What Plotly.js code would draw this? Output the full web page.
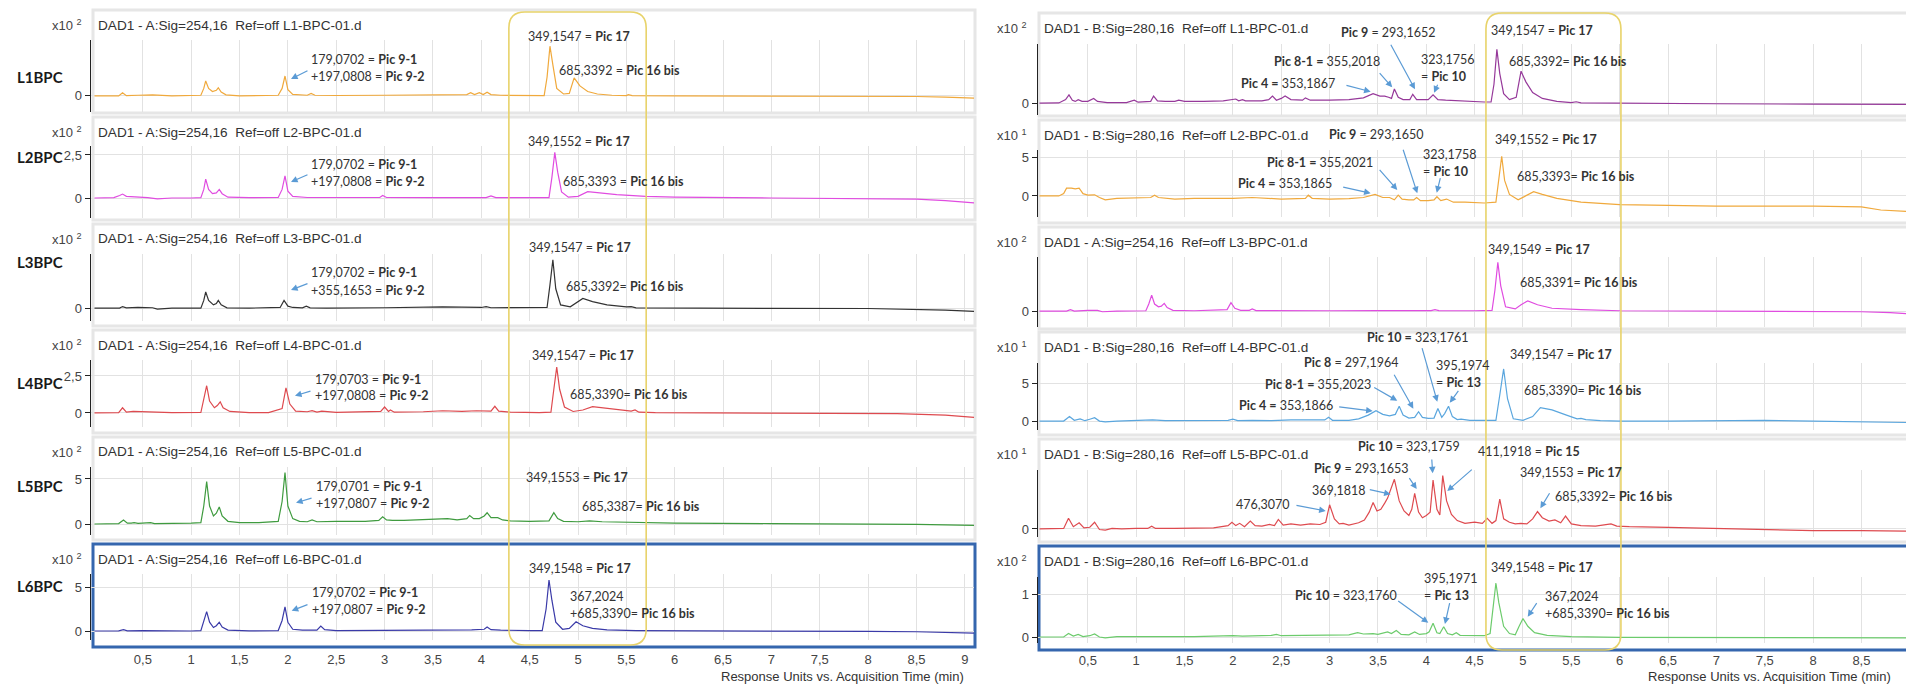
<!DOCTYPE html>
<html><head><meta charset="utf-8">
<script src="https://cdn.plot.ly/plotly-3.0.1.min.js"></script>
<style>html,body{margin:0;padding:0;background:#fff}#chart{width:1906px;height:689px}</style>
</head><body><div id="chart"></div>
<script>
// ---------- DATA: [time (min), response] pairs ----------
const L1 = [[0,0],[0.25,0],[0.29,0.25],[0.33,0.02],[0.45,0.05],[0.6,0.08],[0.8,0],[1.0,0.02],[1.1,0.05],[1.13,0.6],[1.15,1.2],[1.18,0.6],[1.22,0.35],[1.26,0.45],[1.28,0.65],[1.31,0.3],[1.36,0.08],[1.5,0],[1.7,0.02],[1.9,0.05],[1.94,0.6],[1.97,1.6],[2.0,0.5],[2.05,0.12],[2.2,0.05],[2.24,0.2],[2.28,0.05],[2.5,0.03],[3.0,0.05],[3.5,0.08],[3.85,0.1],[3.89,0.25],[3.93,0.1],[3.98,0.25],[4.02,0.1],[4.06,0.3],[4.1,0.1],[4.2,0.05],[4.5,0.02],[4.65,0.02],[4.68,1.5],[4.71,4.0],[4.74,2.5],[4.78,0.6],[4.85,0.15],[4.91,0.2],[4.96,1.45],[5.02,0.8],[5.1,0.35],[5.2,0.15],[5.35,0.05],[5.5,0.02],[5.52,0.1],[5.56,0.02],[6,0],[7,0],[8,-0.02],[8.5,-0.05],[8.8,-0.1],[9.1,-0.18]];
const L2 = [[0,0],[0.2,0.02],[0.26,0.15],[0.29,0.23],[0.33,0.1],[0.4,0.08],[0.55,0.02],[0.65,-0.05],[0.8,0],[1.0,0],[1.1,0.02],[1.13,0.5],[1.15,1.1],[1.18,0.5],[1.22,0.25],[1.26,0.3],[1.29,0.5],[1.32,0.25],[1.38,0.05],[1.6,0.02],[1.9,0.03],[1.94,0.5],[1.97,1.28],[2.0,0.4],[2.05,0.1],[2.2,0.03],[2.5,0.02],[2.95,0.03],[2.98,0.15],[3.02,0.03],[3.5,0.02],[4.05,0.02],[4.1,0.12],[4.15,0.02],[4.5,0.02],[4.7,0.02],[4.73,1.2],[4.76,2.65],[4.79,1.5],[4.83,0.35],[4.9,0.05],[5.0,0.1],[5.1,0.37],[5.2,0.3],[5.4,0.2],[5.7,0.1],[6.0,0.05],[7,0],[8,-0.02],[8.5,-0.06],[8.8,-0.15],[9.1,-0.28]];
const L3 = [[0,0],[0.26,0],[0.29,0.12],[0.33,0.02],[0.45,0.05],[0.6,0.03],[0.65,-0.08],[0.8,0],[1.1,0],[1.13,0.6],[1.15,1.25],[1.18,0.6],[1.23,0.25],[1.26,0.35],[1.28,0.6],[1.31,0.25],[1.37,0.02],[1.6,0],[1.92,0.05],[1.96,0.6],[2.0,0.15],[2.05,0.05],[2.15,0.02],[2.19,0.15],[2.23,0.02],[2.4,0],[3.0,0.03],[3.3,0.05],[3.5,0.05],[3.6,0.1],[4.0,0.05],[4.05,0.12],[4.1,0.03],[4.5,0.02],[4.68,0.05],[4.71,1.8],[4.74,3.75],[4.77,1.5],[4.82,0.25],[4.92,0.1],[4.97,0.35],[5.05,0.75],[5.15,0.5],[5.3,0.25],[5.5,0.1],[5.55,0.12],[5.6,0.02],[6.0,0],[7.0,-0.02],[8.0,-0.03],[8.5,-0.08],[8.8,-0.15],[9.1,-0.25]];
const L4 = [[0,0],[0.25,0.02],[0.29,0.35],[0.33,0.05],[0.4,0.1],[0.55,0.08],[0.65,0.03],[0.8,0.02],[1.1,0.03],[1.13,0.9],[1.16,1.84],[1.19,0.8],[1.24,0.35],[1.27,0.5],[1.3,0.75],[1.33,0.35],[1.4,0.1],[1.6,0.02],[1.8,0.02],[1.94,0.3],[1.98,1.7],[2.02,0.6],[2.08,0.12],[2.2,0.08],[2.25,0.15],[2.3,0.06],[2.35,0.12],[2.5,0.04],[2.9,0.05],[2.96,0.1],[3.0,0.4],[3.04,0.1],[3.06,0.2],[3.1,0.05],[3.4,0.08],[3.5,0.1],[3.6,0.15],[3.8,0.1],[3.95,0.15],[4.1,0.12],[4.14,0.45],[4.18,0.12],[4.22,0.1],[4.3,0.05],[4.6,0.02],[4.72,0.05],[4.75,1.6],[4.78,3.1],[4.81,1.6],[4.86,0.4],[4.95,0.1],[5.05,0.2],[5.15,0.43],[5.25,0.35],[5.4,0.25],[5.55,0.12],[5.59,0.2],[5.63,0.05],[5.8,0.02],[6.5,0],[7.5,-0.02],[8.3,-0.05],[8.8,-0.15],[9.1,-0.3]];
const L5 = [[0,0],[0.25,0.05],[0.3,0.45],[0.34,0.1],[0.38,0.1],[0.41,0.15],[0.45,0.08],[0.55,0.1],[0.58,0.15],[0.62,0.05],[0.8,0.05],[1.0,0.1],[1.1,0.15],[1.13,2.0],[1.16,4.7],[1.19,2.0],[1.23,0.9],[1.26,1.2],[1.29,1.9],[1.32,0.9],[1.38,0.3],[1.5,0.15],[1.7,0.15],[1.8,0.2],[1.9,0.3],[1.94,2.5],[1.97,5.7],[2.0,2.0],[2.05,0.6],[2.12,0.3],[2.2,0.25],[2.25,0.45],[2.3,0.25],[2.5,0.3],[2.8,0.3],[2.94,0.4],[2.98,0.8],[3.02,0.45],[3.08,0.4],[3.2,0.4],[3.4,0.5],[3.5,0.55],[3.65,0.6],[3.75,0.45],[3.85,0.6],[3.88,0.95],[3.92,0.6],[3.98,0.6],[4.03,0.9],[4.06,1.25],[4.1,0.7],[4.17,0.7],[4.22,0.45],[4.3,0.35],[4.5,0.3],[4.7,0.35],[4.72,0.7],[4.75,1.25],[4.79,0.6],[4.85,0.3],[5.0,0.25],[5.12,0.35],[5.25,0.25],[5.5,0.2],[5.7,0.12],[6.0,0.1],[7.0,0.05],[8.0,0],[8.5,-0.05],[9.1,-0.15]];
const L6 = [[0,0],[0.25,0.02],[0.3,0.15],[0.34,0.02],[0.5,0.05],[0.7,0.02],[1.0,0],[1.1,0.05],[1.13,1.0],[1.16,2.2],[1.19,1.0],[1.23,0.4],[1.26,0.6],[1.29,1.0],[1.32,0.45],[1.38,0.1],[1.6,0.02],[1.9,0.05],[1.94,1.2],[1.97,2.75],[2.0,1.0],[2.05,0.2],[2.15,0.1],[2.3,0.1],[2.34,0.55],[2.38,0.15],[2.5,0.05],[3.0,0.05],[3.5,0.1],[3.9,0.12],[4.03,0.2],[4.06,0.45],[4.1,0.15],[4.2,0.1],[4.5,0.05],[4.63,0.05],[4.67,2.5],[4.70,5.8],[4.73,3.5],[4.77,1.0],[4.84,0.2],[4.91,0.3],[4.98,1.05],[5.05,0.6],[5.15,0.3],[5.3,0.12],[5.6,0.05],[6.0,0.02],[7.0,-0.02],[8.0,-0.05],[8.5,-0.08],[8.8,-0.15],[9.1,-0.25]];
const R1 = [[0,0],[0.2,0.02],[0.27,0.3],[0.305,0.7],[0.34,0.25],[0.37,0.15],[0.4,0.3],[0.44,0.15],[0.5,0.15],[0.56,0.4],[0.6,0.15],[0.7,0.05],[0.9,0.05],[0.98,0.25],[1.02,0.08],[1.1,0.1],[1.15,0.15],[1.18,0.6],[1.22,0.2],[1.3,0.15],[1.4,0.15],[1.44,0.25],[1.5,0.15],[1.7,0.15],[1.9,0.2],[2.03,0.35],[2.06,0.2],[2.1,0.3],[2.13,0.2],[2.3,0.2],[2.37,0.3],[2.41,0.6],[2.45,0.25],[2.5,0.4],[2.54,0.6],[2.6,0.3],[2.72,0.25],[2.75,0.45],[2.8,0.25],[3.0,0.25],[3.2,0.3],[3.35,0.45],[3.45,0.8],[3.52,0.6],[3.57,0.6],[3.61,0.5],[3.64,0.4],[3.67,1.2],[3.71,0.5],[3.76,0.3],[3.83,0.3],[3.86,0.75],[3.9,0.3],[3.96,0.3],[4.02,0.3],[4.07,0.7],[4.12,0.3],[4.2,0.25],[4.3,0.2],[4.4,0.15],[4.6,0.1],[4.67,0.1],[4.70,1.6],[4.73,4.55],[4.76,2.5],[4.8,0.8],[4.86,0.3],[4.93,0.5],[4.98,2.7],[5.03,1.8],[5.1,0.9],[5.2,0.4],[5.35,0.15],[5.5,0.05],[5.55,0.12],[5.6,0.03],[6.0,0],[7.0,-0.05],[8.0,-0.08],[9.0,-0.1]];
const R2 = [[0,0],[0.2,0],[0.25,0.3],[0.28,1.0],[0.33,1.0],[0.37,0.9],[0.41,1.0],[0.45,0.3],[0.5,0.1],[0.57,0.15],[0.62,-0.2],[0.68,-0.5],[0.8,-0.3],[1.0,-0.2],[1.15,-0.2],[1.19,0.1],[1.23,-0.2],[1.4,-0.4],[1.6,-0.3],[1.8,-0.3],[2.0,-0.3],[2.2,-0.2],[2.5,-0.4],[2.75,-0.3],[2.78,0.1],[2.82,-0.3],[3.0,-0.4],[3.2,-0.35],[3.35,-0.2],[3.47,0.2],[3.55,-0.2],[3.62,-0.2],[3.67,-0.5],[3.71,0.1],[3.75,-0.4],[3.82,-0.5],[3.87,-0.5],[3.9,-0.2],[3.94,-0.6],[4.02,-0.6],[4.08,-0.5],[4.11,-0.1],[4.15,-0.6],[4.21,-0.4],[4.28,-0.8],[4.4,-0.8],[4.6,-0.9],[4.72,-0.8],[4.75,2.5],[4.78,5.1],[4.81,2.0],[4.86,0.2],[4.95,-0.5],[5.05,0.2],[5.11,0.55],[5.2,0.2],[5.35,-0.3],[5.6,-0.8],[6.0,-1.1],[6.5,-1.2],[7.0,-1.3],[8.0,-1.3],[8.5,-1.4],[8.7,-1.8],[9.0,-2.0]];
const R3 = [[0,0],[0.28,0],[0.32,0.1],[0.36,0],[0.5,0.05],[0.6,0.05],[0.65,-0.05],[0.8,0],[1.1,0.02],[1.13,0.5],[1.16,1.14],[1.19,0.5],[1.23,0.3],[1.26,0.35],[1.29,0.55],[1.32,0.25],[1.38,0.05],[1.6,0.02],[1.94,0.1],[1.98,0.6],[2.02,0.2],[2.08,0.05],[2.17,0.05],[2.2,0.15],[2.24,0.03],[2.4,0.02],[3.0,0.02],[3.5,0.03],[4.05,0.03],[4.09,0.1],[4.13,0.03],[4.5,0.02],[4.68,0.05],[4.71,1.5],[4.74,3.48],[4.77,1.8],[4.82,0.3],[4.92,0.15],[4.98,0.45],[5.05,0.73],[5.15,0.45],[5.3,0.2],[5.5,0.1],[5.55,0.08],[5.6,0.1],[6.0,0.02],[7.0,0],[8.0,-0.02],[8.5,-0.05],[8.8,-0.12],[9.0,-0.2]];
const R4 = [[0,0],[0.25,0],[0.31,0.6],[0.36,0.1],[0.42,0.3],[0.47,0.05],[0.52,0.25],[0.57,0.45],[0.62,0],[0.68,-0.1],[0.8,0],[1.0,0.05],[1.17,0.15],[1.3,0.05],[1.6,0.05],[1.95,0.1],[2.0,0.25],[2.05,0.05],[2.2,0.1],[2.4,0.05],[2.6,0.15],[2.8,0.1],[2.95,0.15],[2.99,0.5],[3.03,0.1],[3.2,0.1],[3.3,0.3],[3.4,0.8],[3.48,1.4],[3.55,0.9],[3.62,0.7],[3.68,0.9],[3.72,2.0],[3.76,0.8],[3.82,0.4],[3.88,0.5],[3.92,1.25],[3.96,0.5],[4.02,0.35],[4.08,0.4],[4.12,1.7],[4.16,0.5],[4.19,1.0],[4.23,2.0],[4.27,0.6],[4.32,0.2],[4.36,0.25],[4.45,0.1],[4.6,0.05],[4.72,0.1],[4.76,3.5],[4.80,7.0],[4.84,3.0],[4.9,0.3],[5.0,0.1],[5.1,0.6],[5.18,1.8],[5.3,1.5],[5.45,0.8],[5.56,0.3],[5.6,0.35],[5.65,0.2],[5.8,0.05],[6.0,0],[6.5,0],[7.0,0.05],[7.5,0.1],[8.0,0],[8.5,-0.1],[9.0,-0.2]];
const R5 = [[0,0],[0.25,0.1],[0.3,1.9],[0.35,0.4],[0.41,1.1],[0.46,0.2],[0.52,0.3],[0.57,1.2],[0.62,-0.1],[0.68,-0.2],[0.75,0.1],[0.85,0],[1.0,0.1],[1.12,0.1],[1.16,0.5],[1.2,0.1],[1.4,0.1],[1.6,0.1],[1.8,0.2],[1.95,0.6],[1.99,1.2],[2.03,0.6],[2.07,1.0],[2.12,0.4],[2.18,1.4],[2.23,0.6],[2.3,0.5],[2.38,0.8],[2.43,0.6],[2.47,1.7],[2.52,0.7],[2.6,0.9],[2.7,0.7],[2.8,0.9],[2.9,0.8],[2.96,1.2],[3.0,4.3],[3.05,1.8],[3.1,0.9],[3.14,1.0],[3.2,0.7],[3.3,1.1],[3.36,1.6],[3.41,3.0],[3.45,4.7],[3.49,3.2],[3.53,3.5],[3.57,4.6],[3.6,5.5],[3.67,8.85],[3.72,5.0],[3.77,3.2],[3.82,2.4],[3.85,3.5],[3.88,6.35],[3.92,3.0],[3.96,2.0],[4.0,2.4],[4.04,3.0],[4.07,8.7],[4.11,3.5],[4.14,2.5],[4.17,9.5],[4.21,5.0],[4.26,2.6],[4.32,1.5],[4.4,1.0],[4.5,1.2],[4.58,1.0],[4.63,1.9],[4.68,1.0],[4.72,1.5],[4.76,5.3],[4.8,1.8],[4.86,1.2],[4.92,0.9],[4.98,1.0],[5.04,0.9],[5.1,1.8],[5.15,3.1],[5.2,2.0],[5.27,1.4],[5.33,1.6],[5.39,1.1],[5.44,2.3],[5.5,0.9],[5.6,0.6],[5.75,0.5],[5.85,0.8],[5.91,0.9],[5.97,0.5],[6.1,0.4],[6.5,0.3],[7.0,0.1],[7.5,-0.1],[8.0,-0.3],[8.5,-0.3],[9.0,-0.4]];
const R6 = [[0,0],[0.25,0],[0.3,0.08],[0.35,0.02],[0.4,0.06],[0.45,0.01],[0.52,0.03],[0.57,0.07],[0.62,0],[0.68,-0.02],[0.8,0.01],[1.2,0.01],[1.6,0.01],[2.0,0.03],[2.1,0.02],[2.4,0.04],[2.45,0.06],[2.5,0.03],[2.8,0.04],[3.2,0.05],[3.29,0.1],[3.35,0.07],[3.45,0.08],[3.5,0.06],[3.6,0.12],[3.64,0.08],[3.69,0.15],[3.74,0.06],[3.82,0.05],[3.88,0.12],[3.93,0.06],[4.0,0.08],[4.03,0.12],[4.07,0.32],[4.11,0.1],[4.14,0.08],[4.18,0.24],[4.22,0.08],[4.27,0.05],[4.31,0.1],[4.35,0.04],[4.45,0.04],[4.6,0.03],[4.66,0.08],[4.69,0.7],[4.72,1.26],[4.75,0.8],[4.8,0.25],[4.86,0.08],[4.92,0.05],[4.96,0.25],[5.0,0.43],[5.05,0.25],[5.12,0.1],[5.25,0.04],[5.5,0.01],[6.0,-0.01],[7.0,-0.01],[8.0,-0.01],[9.0,-0.02]];

const SERIES = [L1, L2, L3, L4, L5, L6, R1, R2, R3, R4, R5, R6];
const ROW_LABELS = ['L1BPC', 'L2BPC', 'L3BPC', 'L4BPC', 'L5BPC', 'L6BPC'];
const HEADERS = [
  'DAD1 - A:Sig=254,16\u00a0 Ref=off L1-BPC-01.d', 'DAD1 - A:Sig=254,16\u00a0 Ref=off L2-BPC-01.d',
  'DAD1 - A:Sig=254,16\u00a0 Ref=off L3-BPC-01.d', 'DAD1 - A:Sig=254,16\u00a0 Ref=off L4-BPC-01.d',
  'DAD1 - A:Sig=254,16\u00a0 Ref=off L5-BPC-01.d', 'DAD1 - A:Sig=254,16\u00a0 Ref=off L6-BPC-01.d',
  'DAD1 - B:Sig=280,16\u00a0 Ref=off L1-BPC-01.d', 'DAD1 - B:Sig=280,16\u00a0 Ref=off L2-BPC-01.d',
  'DAD1 - A:Sig=254,16\u00a0 Ref=off L3-BPC-01.d', 'DAD1 - B:Sig=280,16\u00a0 Ref=off L4-BPC-01.d',
  'DAD1 - B:Sig=280,16\u00a0 Ref=off L5-BPC-01.d', 'DAD1 - B:Sig=280,16\u00a0 Ref=off L6-BPC-01.d'
];
const EXPONENTS = [2, 2, 2, 2, 2, 2, 2, 1, 2, 1, 1, 2];
const Y_TICKS = [[0], [0, 2.5], [0], [0, 2.5], [0, 5], [0, 5], [0], [0, 5], [0], [0, 5], [0], [0, 1]];
const X_TICKS = [0.5, 1, 1.5, 2, 2.5, 3, 3.5, 4, 4.5, 5, 5.5, 6, 6.5, 7, 7.5, 8, 8.5, 9];
const X_TITLE = 'Response Units vs. Acquisition Time (min)';

// peak labels: [panel, time, value, text]
const PEAK_LABELS = [
  [0, 2.229, 2.89, '179,0702 = <b>Pic 9-1</b>'], [0, 2.229, 1.52, '+197,0808 = <b>Pic 9-2</b>'],
  [0, 4.473, 4.82, '349,1547 = <b>Pic 17</b>'], [0, 4.793, 2.08, '685,3392 = <b>Pic 16 bis</b>'],
  [1, 2.229, 1.917, '179,0702 = <b>Pic 9-1</b>'], [1, 2.229, 0.93, '+197,0808 = <b>Pic 9-2</b>'],
  [1, 4.473, 3.31, '349,1552 = <b>Pic 17</b>'], [1, 4.835, 0.987, '685,3393 = <b>Pic 16 bis</b>'],
  [2, 2.229, 2.748, '179,0702 = <b>Pic 9-1</b>'], [2, 2.229, 1.35, '+355,1653 = <b>Pic 9-2</b>'],
  [2, 4.478, 4.666, '349,1547 = <b>Pic 17</b>'], [2, 4.866, 1.661, '685,3392= <b>Pic 16 bis</b>'],
  [3, 2.270, 2.295, '179,0703 = <b>Pic 9-1</b>'], [3, 2.270, 1.146, '+197,0808 = <b>Pic 9-2</b>'],
  [3, 4.518, 3.918, '349,1547 = <b>Pic 17</b>'], [3, 4.907, 1.281, '685,3390= <b>Pic 16 bis</b>'],
  [4, 2.280, 4.22, '179,0701 = <b>Pic 9-1</b>'], [4, 2.280, 2.30, '+197,0807 = <b>Pic 9-2</b>'],
  [4, 4.452, 5.109, '349,1553 = <b>Pic 17</b>'], [4, 5.031, 1.922, '685,3387= <b>Pic 16 bis</b>'],
  [5, 2.236, 4.355, '179,0702 = <b>Pic 9-1</b>'], [5, 2.236, 2.469, '+197,0807 = <b>Pic 9-2</b>'],
  [5, 4.478, 7.05, '349,1548 = <b>Pic 17</b>'], [5, 4.903, 3.98, '367,2024'], [5, 4.903, 2.014, '+685,3390= <b>Pic 16 bis</b>'],
  [6, 3.108, 5.99, '<b>Pic 9</b> = 293,1652'], [6, 2.418, 3.504, '<b>Pic 8-1 =</b> 355,2018'],
  [6, 3.935, 3.707, '323,1756'], [6, 3.935, 2.295, '= <b>Pic 10</b>'], [6, 2.073, 1.678, '<b>Pic 4 =</b> 353,1867'],
  [6, 4.656, 6.124, '349,1547 = <b>Pic 17</b>'], [6, 4.850, 3.504, '685,3392= <b>Pic 16 bis</b>'],
  [7, 2.987, 7.826, '<b>Pic 9</b> = 293,1650'], [7, 2.342, 4.321, '<b>Pic 8-1 =</b> 355,2021'],
  [7, 3.952, 5.348, '323,1758'], [7, 3.952, 3.114, '= <b>Pic 10</b>'], [7, 2.039, 1.625, '<b>Pic 4 =</b> 353,1865'],
  [7, 4.700, 7.274, '349,1552 = <b>Pic 17</b>'], [7, 4.928, 2.562, '685,3393= <b>Pic 16 bis</b>'],
  [8, 4.632, 4.431, '349,1549 = <b>Pic 17</b>'], [8, 4.962, 2.053, '685,3391= <b>Pic 16 bis</b>'],
  [9, 3.373, 11.25, '<b>Pic 10 =</b> 323,1761'], [9, 2.728, 7.84, '<b>Pic 8</b> = 297,1964'],
  [9, 4.087, 7.437, '395,1974'], [9, 4.087, 5.152, '= <b>Pic 13</b>'],
  [9, 2.322, 4.977, '<b>Pic 8-1 =</b> 355,2023'], [9, 2.056, 2.155, '<b>Pic 4 =</b> 353,1866'],
  [9, 4.857, 8.875, '349,1547 = <b>Pic 17</b>'], [9, 4.996, 4.077, '685,3390= <b>Pic 16 bis</b>'],
  [10, 3.280, 14.77, '<b>Pic 10</b> = 323,1759'], [10, 2.825, 10.80, '<b>Pic 9</b> = 293,1653'],
  [10, 4.520, 13.76, '411,1918 = <b>Pic 15</b>'], [10, 2.805, 6.814, '369,1818'], [10, 2.022, 4.392, '476,3070'],
  [10, 4.962, 10.02, '349,1553 = <b>Pic 17</b>'], [10, 5.319, 5.87, '685,3392= <b>Pic 16 bis</b>'],
  [11, 2.635, 0.980, '<b>Pic 10</b> = 323,1760'], [11, 3.963, 1.370, '395,1971'], [11, 3.963, 0.957, '= <b>Pic 13</b>'],
  [11, 4.659, 1.626, '349,1548 = <b>Pic 17</b>'], [11, 5.221, 0.940, '367,2024'], [11, 5.221, 0.537, '+685,3390= <b>Pic 16 bis</b>']
];
// arrows: [panel, tail time, tail value, head time, head value]
const PEAK_ARROWS = [
  [0, 2.218, 2.08, 2.032, 1.36], [1, 2.218, 1.394, 2.032, 0.93], [2, 2.218, 1.948, 2.032, 1.405],
  [3, 2.249, 1.504, 2.073, 1.166], [4, 2.260, 2.92, 2.084, 2.366], [5, 2.218, 3.07, 2.039, 2.31],
  [6, 3.159, 1.534, 3.425, 0.968], [6, 3.504, 2.658, 3.648, 1.34], [6, 3.625, 5.06, 3.883, 1.17], [6, 4.124, 1.678, 4.080, 0.883],
  [7, 3.125, 1.189, 3.425, 0.342], [7, 3.504, 3.551, 3.700, 0.765], [7, 3.756, 6.118, 3.907, 0.342], [7, 4.149, 2.472, 4.108, 0.419],
  [9, 3.084, 1.926, 3.446, 1.348], [9, 3.446, 4.614, 3.700, 2.733], [9, 3.659, 6.416, 3.866, 1.657], [9, 3.952, 9.991, 4.114, 2.598], [9, 4.343, 4.265, 4.243, 2.464],
  [10, 2.642, 4.268, 2.960, 3.2], [10, 3.400, 7.063, 3.632, 6.173], [10, 3.814, 9.307, 3.901, 7.117], [10, 4.056, 12.64, 4.066, 9.912], [10, 4.486, 10.80, 4.217, 6.761], [10, 5.284, 6.636, 5.180, 3.68],
  [11, 3.694, 0.863, 4.021, 0.334], [11, 4.245, 0.824, 4.193, 0.303], [11, 5.152, 0.824, 5.049, 0.474]
];
// highlighted retention window (min) per column
const WINDOW_LEFT = [4.285, 5.705];
const WINDOW_RIGHT = [4.617, 6.013];

// ---------- LAYOUT / STYLE ----------
const W = 1906, H = 689;
const PX = v => v / W, PY = v => 1 - v / H;
const COLORS = ['#F0A93C', '#E04CE0', '#333333', '#DE4A4F', '#3F9B3F', '#3A3AA8',
                '#96399A', '#F0A93C', '#E04CE0', '#5AA6DE', '#DE4A4F', '#6CCB6C'];
const COL_X = [[91, 974], [1038, 1906]];
const COL_XRANGE = [[-0.0362, 9.095], [-0.0155, 8.961]];
const Y_DOMS = [[40,112],[146,218],[254,321],[360,427],[467,535],[574,640],[44,115],[150,217],[257,327],[363,430],[470,537],[577,643]];
const Y_RANGES = [[-1.3,4.5],[-1.16,3.02],[-1.0,4.2],[-0.95,3.58],[-1.22,6.33],[-1.02,6.48],[-1.0,5.0],[-2.7,5.9],[-1.14,3.86],[-1.2,7.8],[-1.43,10.5],[-0.14,1.40]];
const HEADER_Y = [25,132,239,345,452,559,28,135,242,347,454,561];
const ROW_Y = [77,157,262,383,486,586];
const FRAMES = [[10,113],[117,220],[224,326],[330,433],[437,540],[544,647],[13,116],[120,223],[227,329],[332,435],[439,542],[546,650]];
const CHART_FONT = 'Liberation Sans, Arial, sans-serif';
const NOTE_FONT = 'Lato, Carlito, sans-serif';

const ax = i => (i === 0 ? '' : String(i + 1));
const colOf = i => (i < 6 ? 0 : 1);
// same linear scales as the axes, used for labels that sit above a panel's plotting area
function paperX(i, t) {
  const c = colOf(i), r = COL_XRANGE[c], d = COL_X[c];
  return PX(d[0] + (t - r[0]) / (r[1] - r[0]) * (d[1] - d[0]));
}
function paperY(i, v) {
  const r = Y_RANGES[i], d = Y_DOMS[i];
  return PY(d[1] - (v - r[0]) / (r[1] - r[0]) * (d[1] - d[0]));
}

const traces = SERIES.map((s, i) => ({
  type: 'scatter', mode: 'lines',
  x: s.map(p => p[0]), y: s.map(p => p[1]),
  xaxis: 'x' + ax(i), yaxis: 'y' + ax(i),
  line: {color: COLORS[i], width: 1.2}, hoverinfo: 'skip'
}));

const layout = {
  width: W, height: H, margin: {l: 0, r: 0, t: 0, b: 0},
  paper_bgcolor: '#ffffff', plot_bgcolor: 'rgba(0,0,0,0)',
  showlegend: false, separators: ', ', hovermode: false,
  font: {family: CHART_FONT, size: 13, color: '#444'},
  annotations: [], shapes: []
};

for (let i = 0; i < 12; i++) {
  const col = colOf(i);
  const bottom = (i === 5 || i === 11);
  layout['xaxis' + ax(i)] = {
    domain: [PX(COL_X[col][0]), PX(COL_X[col][1])], range: COL_XRANGE[col],
    anchor: 'y' + ax(i), tickvals: X_TICKS, showgrid: true, gridcolor: '#e2e2e2', gridwidth: 1,
    zeroline: false, showline: false, showticklabels: bottom,
    ticks: bottom ? 'outside' : '', ticklen: col === 0 ? 7 : 5, tickcolor: 'rgba(0,0,0,0)',
    tickfont: {family: CHART_FONT, size: 13, color: '#444'}, fixedrange: true
  };
  layout['yaxis' + ax(i)] = {
    domain: [PY(Y_DOMS[i][1]), PY(Y_DOMS[i][0])], range: Y_RANGES[i],
    anchor: 'x' + ax(i), tickvals: Y_TICKS[i], showgrid: true, gridcolor: '#e2e2e2',
    zeroline: false, showline: true, linecolor: '#222', linewidth: 1.5,
    ticks: 'outside', ticklen: 5, tickcolor: '#222', tickwidth: 1,
    tickfont: {family: CHART_FONT, size: 13, color: '#444'}, fixedrange: true
  };
  const blue = bottom;
  layout.shapes.push({type: 'rect', xref: 'paper', yref: 'paper', layer: 'below',
    x0: PX(col === 0 ? 93 : 1039), x1: PX(col === 0 ? 975 : 1912), y0: PY(FRAMES[i][1]), y1: PY(FRAMES[i][0]),
    line: {color: blue ? '#3566AE' : '#e6e6e6', width: 3}, fillcolor: 'rgba(0,0,0,0)'});
  layout.annotations.push({xref: 'paper', yref: 'paper', x: PX(col === 0 ? 96 : 1042), y: PY(HEADER_Y[i]),
    xanchor: 'left', yanchor: 'middle', showarrow: false, text: HEADERS[i],
    font: {family: CHART_FONT, size: 13.6, color: '#333'}});
  layout.annotations.push({xref: 'paper', yref: 'paper', x: PX(col === 0 ? 84 : 1029), y: PY(HEADER_Y[i]),
    xanchor: 'right', yanchor: 'middle', showarrow: false, text: 'x10 <sup>' + EXPONENTS[i] + '</sup>',
    font: {family: CHART_FONT, size: 13, color: '#444'}});
}
ROW_LABELS.forEach((t, r) => layout.annotations.push({xref: 'paper', yref: 'paper', x: PX(15), y: PY(ROW_Y[r]),
  xanchor: 'left', yanchor: 'middle', showarrow: false, text: '<b>' + t + '</b>',
  font: {family: NOTE_FONT, size: 15, color: '#1a1a1a'}}));
[[966, 676], [1893, 676]].forEach(p => layout.annotations.push({xref: 'paper', yref: 'paper', x: PX(p[0]), y: PY(p[1]),
  xanchor: 'right', yanchor: 'middle', showarrow: false, text: X_TITLE,
  font: {family: CHART_FONT, size: 13, color: '#333'}}));

PEAK_LABELS.forEach(a => layout.annotations.push({xref: 'paper', yref: 'paper',
  x: paperX(a[0], a[1]), y: paperY(a[0], a[2]),
  xanchor: 'left', yanchor: 'middle', showarrow: false, text: a[3], borderpad: 0,
  font: {family: NOTE_FONT, size: 12.5, color: '#333'}}));
PEAK_ARROWS.forEach(a => layout.annotations.push({xref: 'x' + ax(a[0]), yref: 'y' + ax(a[0]),
  axref: 'x' + ax(a[0]), ayref: 'y' + ax(a[0]), ax: a[1], ay: a[2], x: a[3], y: a[4], text: '',
  showarrow: true, arrowhead: 2, arrowsize: 1.1, arrowwidth: 1.2, arrowcolor: '#5B9BD5', standoff: 0}));

function roundBox(xr, x0, x1, ytopPx, ybotPx) {
  const rx = 16 / 96.7, ry = 16 / H, yt = PY(ytopPx), yb = PY(ybotPx);
  return {type: 'path', xref: xr, yref: 'paper', layer: 'above', line: {color: '#E8D36A', width: 1.6},
    path: `M ${x0 + rx},${yt} L ${x1 - rx},${yt} Q ${x1},${yt} ${x1},${yt - ry} L ${x1},${yb + ry} Q ${x1},${yb} ${x1 - rx},${yb} ` +
          `L ${x0 + rx},${yb} Q ${x0},${yb} ${x0},${yb + ry} L ${x0},${yt - ry} Q ${x0},${yt} ${x0 + rx},${yt} Z`};
}
layout.shapes.push(roundBox('x', WINDOW_LEFT[0], WINDOW_LEFT[1], 12, 645));
layout.shapes.push(roundBox('x7', WINDOW_RIGHT[0], WINDOW_RIGHT[1], 13, 650));

Plotly.newPlot('chart', traces, layout, {staticPlot: true, displayModeBar: false});
</script></body></html>
